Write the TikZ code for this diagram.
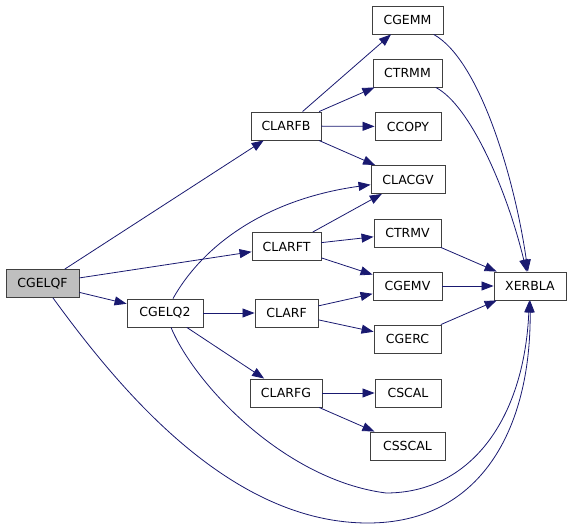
\documentclass[tikz,border=0pt]{standalone}
\usepackage{fontspec}
\setmainfont{DejaVu Sans}
\usetikzlibrary{arrows.meta}
\definecolor{edgec}{HTML}{191970}
\definecolor{boxc}{HTML}{404040}
\definecolor{grayfill}{HTML}{BFBFBF}
\begin{document}
\begin{tikzpicture}[x=1pt,y=-1pt,
  fn/.style={draw=boxc, line width=0.9pt, fill=white, minimum height=28pt, inner sep=0pt,
             font=\fontsize{12.5}{14}\selectfont},
  e/.style={draw=edgec, line width=0.8pt, -{Triangle[length=12pt,width=9pt]}}]
\useasboundingbox (0,0) rectangle (573,530);
% nodes
\node[fn, fill=grayfill, minimum width=73pt] (cgelqf) at (42.5,283.5) {CGELQF};
\node[fn, minimum width=76pt] (cgelq2) at (165,313) {CGELQ2};
\node[fn, minimum width=70pt] (clarfb) at (286,126) {CLARFB};
\node[fn, minimum width=69pt] (clarft) at (286.5,246.5) {CLARFT};
\node[fn, minimum width=63pt] (clarf) at (286.5,313) {CLARF};
\node[fn, minimum width=72pt] (clarfg) at (286,393) {CLARFG};
\node[fn, minimum width=71pt] (cgemm) at (407.5,20) {CGEMM};
\node[fn, minimum width=69pt] (ctrmm) at (407.5,73) {CTRMM};
\node[fn, minimum width=66pt] (ccopy) at (408,126.5) {CCOPY};
\node[fn, minimum width=74pt] (clacgv) at (408,179.5) {CLACGV};
\node[fn, minimum width=67pt] (ctrmv) at (407.5,233) {CTRMV};
\node[fn, minimum width=69pt] (cgemv) at (407.5,286) {CGEMV};
\node[fn, minimum width=67pt] (cgerc) at (407.5,339) {CGERC};
\node[fn, minimum width=66pt] (cscal) at (408,393) {CSCAL};
\node[fn, minimum width=75pt] (csscal) at (407.5,446) {CSSCAL};
\node[fn, minimum width=72pt] (xerbla) at (530,286) {XERBLA};
% edges
\draw[e] (cgelqf) -- (clarfb);
\draw[e] (cgelqf) -- (clarft);
\draw[e] (cgelqf) -- (cgelq2);
\draw[e] (cgelqf) .. controls (120,390) and (230,523) .. (368,523)
                  .. controls (480,523) and (531,430) .. (xerbla);
\draw[e] (cgelq2) .. controls (200,250) and (260,200) .. (clacgv);
\draw[e] (cgelq2) -- (clarf);
\draw[e] (cgelq2) -- (clarfg);
\draw[e] (cgelq2) .. controls (195,385) and (285,480) .. (386,493)
                  .. controls (470,493) and (524,420) .. (xerbla);
\draw[e] (clarfb) -- (cgemm);
\draw[e] (clarfb) -- (ctrmm);
\draw[e] (clarfb) -- (ccopy);
\draw[e] (clarfb) -- (clacgv);
\draw[e] (clarft) -- (clacgv);
\draw[e] (clarft) -- (ctrmv);
\draw[e] (clarft) -- (cgemv);
\draw[e] (clarf) -- (cgemv);
\draw[e] (clarf) -- (cgerc);
\draw[e] (clarfg) -- (cscal);
\draw[e] (clarfg) -- (csscal);
\draw[e] (cgemm) .. controls (480,60) and (515,180) .. (xerbla);
\draw[e] (ctrmm) .. controls (470,105) and (507,190) .. (xerbla);
\draw[e] (ctrmv) -- (xerbla);
\draw[e] (cgemv) -- (xerbla);
\draw[e] (cgerc) -- (xerbla);
\end{tikzpicture}
\end{document}
